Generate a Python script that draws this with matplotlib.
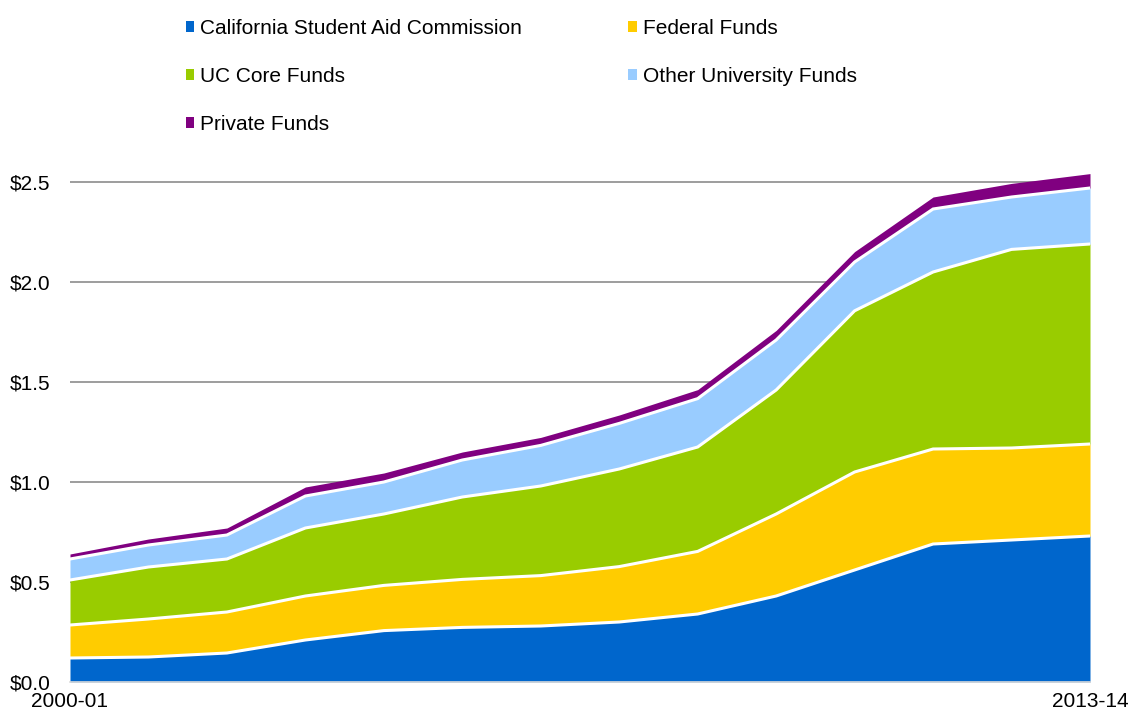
# UC financial aid by source, stacked area, 2000-01 to 2013-14
import numpy as np
import matplotlib.pyplot as plt
from matplotlib.patches import Patch

plt.rcParams['font.family'] = ['Liberation Sans', 'DejaVu Sans']

# data (billions of dollars)
years = ["2000-01", "2001-02", "2002-03", "2003-04", "2004-05", "2005-06", "2006-07",
         "2007-08", "2008-09", "2009-10", "2010-11", "2011-12", "2012-13", "2013-14"]
csac = [0.12, 0.125, 0.145, 0.21, 0.257, 0.273, 0.28, 0.30, 0.34, 0.43, 0.56, 0.69, 0.71, 0.73]
federal = [0.165, 0.19, 0.205, 0.22, 0.226, 0.24, 0.252, 0.277, 0.313, 0.41, 0.49, 0.475, 0.46, 0.46]
uc_core = [0.225, 0.26, 0.265, 0.34, 0.357, 0.412, 0.448, 0.488, 0.522, 0.62, 0.806, 0.885, 0.993, 1.0]
other_univ = [0.105, 0.11, 0.12, 0.16, 0.16, 0.185, 0.203, 0.228, 0.242, 0.25, 0.244, 0.315, 0.262, 0.28]
private = [0.025, 0.03, 0.035, 0.045, 0.045, 0.04, 0.04, 0.042, 0.045, 0.048, 0.052, 0.06, 0.068, 0.072]

names = ["California Student Aid Commission", "Federal Funds", "UC Core Funds",
         "Other University Funds", "Private Funds"]
colors = ["#0066CC", "#FFCC00", "#99CC00", "#99CCFF", "#800080"]

series = np.array([csac, federal, uc_core, other_univ, private])
tops = np.cumsum(series, axis=0)
x = np.arange(len(years))

fig = plt.figure(figsize=(11.31, 7.09), dpi=100)
ax = fig.add_axes([70 / 1131, 1 - 682 / 709, 1020 / 1131, 520 / 709])

# stacked areas
bottom = np.zeros(len(x))
for i in range(len(names)):
    ax.fill_between(x, bottom, tops[i], color=colors[i], linewidth=0, zorder=2)
    bottom = tops[i]

# white separators between layers
for i in range(len(names) - 1):
    ax.plot(x, tops[i], color="white", linewidth=2.2, zorder=3, solid_joinstyle="miter")

ax.set_xlim(0, len(x) - 1)
ax.set_ylim(0, 2.6)

# gridlines
ax.set_yticks([0, 0.5, 1.0, 1.5, 2.0, 2.5])
ax.set_yticklabels(["$0.0", "$0.5", "$1.0", "$1.5", "$2.0", "$2.5"])
for yv in [0.5, 1.0, 1.5, 2.0, 2.5]:
    ax.axhline(yv, color="#8c8c8c", linewidth=1.2, zorder=1)

ax.set_xticks([0, len(x) - 1])
ax.set_xticklabels([years[0], years[-1]])

for s in ["top", "right", "left"]:
    ax.spines[s].set_visible(False)
ax.spines["bottom"].set_color("#d9d9d9")
ax.spines["bottom"].set_linewidth(1.2)
ax.tick_params(axis="y", length=0, pad=14, labelsize=15)
ax.tick_params(axis="x", length=0, pad=7, labelsize=15)

# legend: two columns, filled down
handles = [Patch(facecolor=c, edgecolor="none") for c in colors]
order = [0, 2, 4, 1, 3]
fig.legend([handles[i] for i in order], [names[i] for i in order],
           ncol=2, loc="upper left", bbox_to_anchor=(167 / 1131, 1 - 0 / 709),
           frameon=False, fontsize=15, handlelength=0.4, handleheight=0.4,
           handletextpad=0.3, labelspacing=1.4, columnspacing=5.1)

fig.savefig("out.png", dpi=100)
